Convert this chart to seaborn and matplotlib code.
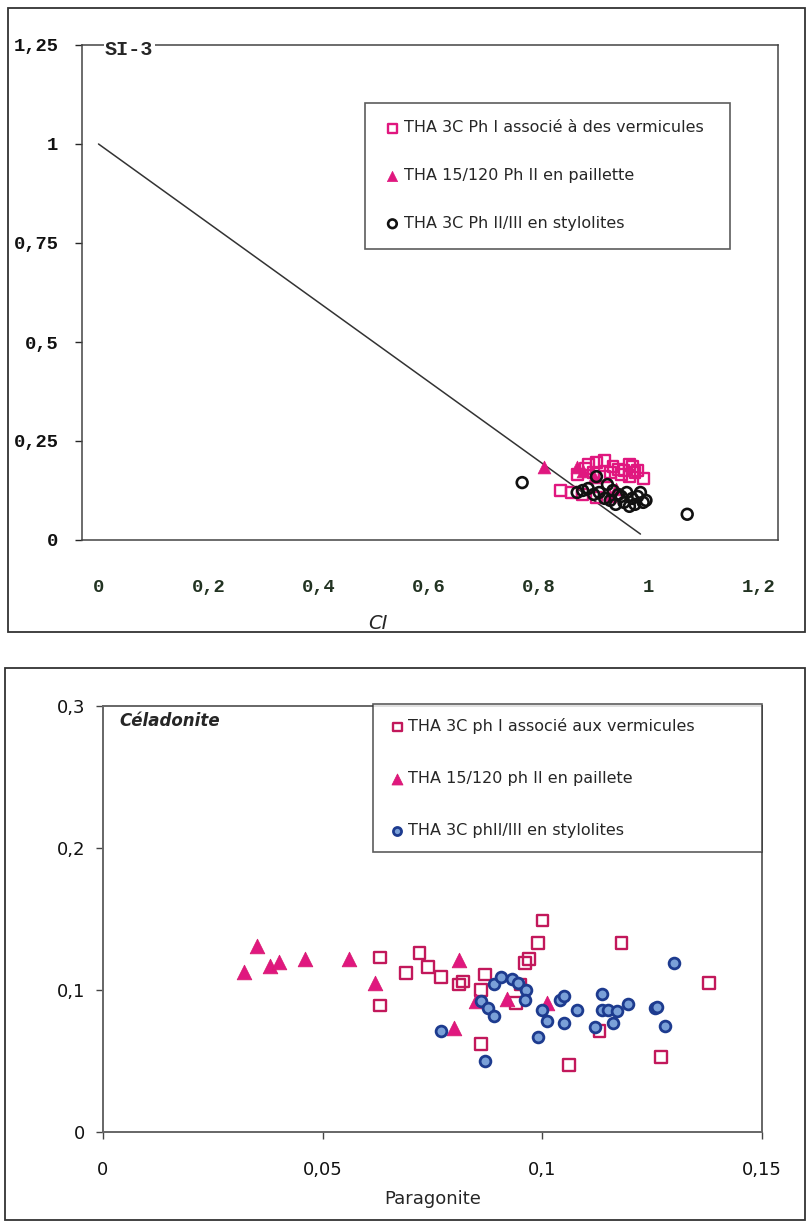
import matplotlib
matplotlib.use('Agg')
import matplotlib.pyplot as plt
import seaborn as sns
import pandas as pd
from matplotlib.patches import Rectangle

sns.set_style('white')
plt.rcParams['font.family'] = ['DejaVu Sans']

# ---------------- top chart : SI-3 vs CI ----------------
top_sq_x = [0.84, 0.86, 0.88, 0.905, 0.89, 0.905, 0.92, 0.935, 0.945, 0.955, 0.965,
            0.97, 0.975, 0.98, 0.99, 0.87, 0.90, 0.92, 0.95, 0.965, 0.885, 0.93]
top_sq_y = [0.125, 0.12, 0.115, 0.108, 0.19, 0.195, 0.20, 0.185, 0.178, 0.175, 0.19,
            0.185, 0.17, 0.175, 0.155, 0.165, 0.17, 0.16, 0.165, 0.16, 0.18, 0.17]
top_tri_x = [0.81, 0.87, 0.88, 0.90, 0.93, 0.94]
top_tri_y = [0.185, 0.185, 0.175, 0.16, 0.11, 0.13]
top_ci_x = [0.77, 1.07, 0.87, 0.88, 0.89, 0.90, 0.905, 0.91, 0.92, 0.925, 0.93, 0.935,
            0.94, 0.945, 0.95, 0.955, 0.96, 0.965, 0.97, 0.975, 0.98, 0.985, 0.99, 0.995]
top_ci_y = [0.145, 0.065, 0.12, 0.125, 0.13, 0.115, 0.16, 0.12, 0.105, 0.14, 0.10, 0.125,
            0.09, 0.115, 0.11, 0.095, 0.12, 0.085, 0.105, 0.09, 0.11, 0.12, 0.095, 0.10]
line_x = [0, 0.985]
line_y = [1, 0.015]
top_labels = ['THA 3C Ph I associé à des vermicules',
              'THA 15/120 Ph II en paillette',
              'THA 3C Ph II/III en stylolites']
top_xticks = [0, 0.2, 0.4, 0.6, 0.8, 1, 1.2]
top_xticklabels = ['0', '0,2', '0,4', '0,6', '0,8', '1', '1,2']
top_yticks = [0, 0.25, 0.5, 0.75, 1, 1.25]
top_yticklabels = ['0', '0,25', '0,5', '0,75', '1', '1,25']

# ---------------- bottom chart : Céladonite vs Paragonite ----------------
bot_sq_x = [0.063, 0.063, 0.069, 0.072, 0.074, 0.077, 0.081, 0.082, 0.086, 0.086, 0.087,
            0.094, 0.095, 0.096, 0.097, 0.099, 0.100, 0.106, 0.113, 0.118, 0.127, 0.138]
bot_sq_y = [0.123, 0.089, 0.112, 0.126, 0.116, 0.109, 0.104, 0.106, 0.100, 0.062, 0.111,
            0.091, 0.104, 0.119, 0.122, 0.133, 0.149, 0.047, 0.071, 0.133, 0.053, 0.105]
bot_tri_x = [0.032, 0.035, 0.038, 0.040, 0.046, 0.056, 0.062, 0.081, 0.080, 0.085, 0.092, 0.101]
bot_tri_y = [0.113, 0.131, 0.117, 0.120, 0.122, 0.122, 0.105, 0.121, 0.073, 0.092, 0.094, 0.091]
bot_ci_x = [0.077, 0.087, 0.086, 0.0877, 0.089, 0.089, 0.0906, 0.093, 0.0945, 0.0963, 0.096,
            0.099, 0.100, 0.101, 0.104, 0.105, 0.105, 0.108, 0.112, 0.1135, 0.1135, 0.115,
            0.116, 0.117, 0.1196, 0.1256, 0.126, 0.128, 0.130]
bot_ci_y = [0.071, 0.050, 0.092, 0.087, 0.082, 0.104, 0.109, 0.108, 0.105, 0.100, 0.093,
            0.067, 0.086, 0.078, 0.093, 0.096, 0.077, 0.086, 0.074, 0.086, 0.097, 0.086,
            0.077, 0.085, 0.090, 0.087, 0.088, 0.075, 0.119]
bot_labels = ['THA 3C ph I associé aux vermicules',
              'THA 15/120 ph II en paillete',
              'THA 3C phII/III en stylolites']
bot_xticks = [0, 0.05, 0.1, 0.15]
bot_xticklabels = ['0', '0,05', '0,1', '0,15']
bot_yticks = [0, 0.1, 0.2, 0.3]
bot_yticklabels = ['0', '0,1', '0,2', '0,3']

magenta = '#e0177f'
crimson = '#c2185b'
navy = '#1d3b8f'

fig = plt.figure(figsize=(8.07, 12.24), dpi=100)

# outer frames around each chart
fig.patches.append(Rectangle((8/807, 1-632/1224), 797/807, 624/1224, transform=fig.transFigure,
                             fill=False, edgecolor='#333333', linewidth=1.3))
fig.patches.append(Rectangle((5/807, 1-1220/1224), 800/807, 552/1224, transform=fig.transFigure,
                             fill=False, edgecolor='#333333', linewidth=1.3))

# top chart
ax1 = fig.add_axes([82/807, 1-540/1224, 696/807, 495/1224])
sns.lineplot(x=line_x, y=line_y, ax=ax1, color='#333333', linewidth=1.1)
sns.scatterplot(x=top_sq_x, y=top_sq_y, ax=ax1, marker='s', s=60, facecolors='none',
                edgecolors=magenta, linewidth=1.7, label=top_labels[0], zorder=3)
sns.scatterplot(x=top_tri_x, y=top_tri_y, ax=ax1, marker='^', s=85, color=magenta,
                edgecolor=magenta, linewidth=0.5, label=top_labels[1], zorder=4)
sns.scatterplot(x=top_ci_x, y=top_ci_y, ax=ax1, marker='o', s=60, facecolors='none',
                edgecolors='#111111', linewidth=1.9, label=top_labels[2], zorder=5)
ax1.set_xlim(-0.03, 1.235)
ax1.set_ylim(0, 1.25)
ax1.set_xticks(top_xticks)
ax1.set_xticklabels(top_xticklabels, family='Liberation Mono', fontweight='bold',
                    fontsize=13.5, color='#223322')
ax1.set_yticks(top_yticks)
ax1.set_yticklabels(top_yticklabels, family='Liberation Mono', fontweight='bold',
                    fontsize=13.5, color='#111111')
ax1.tick_params(axis='y', length=5, width=1, pad=12, left=True)
ax1.tick_params(axis='x', length=0, pad=28)
ax1.set_xlabel('CI', fontsize=14, fontstyle='italic', labelpad=8)
ax1.xaxis.set_label_coords(0.425, -0.15)
ax1.set_ylabel('')
for sp in ax1.spines.values():
    sp.set_color('#444444')
    sp.set_linewidth(1.1)
ax1.text(0.033, 0.99, 'SI-3', transform=ax1.transAxes, family='Liberation Mono',
         fontweight='bold', fontsize=14.5, va='center', ha='left',
         bbox=dict(facecolor='white', edgecolor='none', pad=1))
leg1 = ax1.legend(loc='upper left', bbox_to_anchor=(0.407, 0.596, 0.524, 0.287),
                  mode='expand', borderaxespad=0, fontsize=11.5, frameon=True, fancybox=False,
                  borderpad=1.1, labelspacing=2.05, handletextpad=0.1, handlelength=1.2,
                  markerscale=0.8)
leg1.get_frame().set_edgecolor('#333333')
leg1.get_frame().set_linewidth(1.2)

# bottom chart
ax2 = fig.add_axes([103/807, 1-1132/1224, 659/807, 426/1224])
sns.scatterplot(x=bot_sq_x, y=bot_sq_y, ax=ax2, marker='s', s=70, facecolors='none',
                edgecolors=crimson, linewidth=1.7, label=bot_labels[0], zorder=3)
sns.scatterplot(x=bot_tri_x, y=bot_tri_y, ax=ax2, marker='^', s=110, color=magenta,
                edgecolor='#d81b72', linewidth=0.6, label=bot_labels[1], zorder=4)
sns.scatterplot(x=bot_ci_x, y=bot_ci_y, ax=ax2, marker='o', s=60, color='#7aa0d8',
                edgecolor=navy, linewidth=2.0, label=bot_labels[2], zorder=5)
ax2.set_xlim(0, 0.15)
ax2.set_ylim(0, 0.3)
ax2.set_xticks(bot_xticks)
ax2.set_xticklabels(bot_xticklabels, fontsize=13)
ax2.set_yticks(bot_yticks)
ax2.set_yticklabels(bot_yticklabels, fontsize=13)
ax2.tick_params(axis='both', length=5, width=1, colors='#444444', labelcolor='#111111',
                bottom=True, left=True)
ax2.tick_params(axis='x', pad=16)
ax2.tick_params(axis='y', pad=8)
ax2.set_xlabel('Paragonite', fontsize=13, labelpad=8)
ax2.set_ylabel('')
for sp in ax2.spines.values():
    sp.set_color('#666666')
    sp.set_linewidth(1.4)
ax2.text(0.025, 0.965, 'Céladonite', transform=ax2.transAxes, fontweight='bold',
         fontsize=12, fontstyle='italic', va='center', ha='left',
         bbox=dict(facecolor='white', edgecolor='none', pad=3))
leg2 = ax2.legend(loc='upper left', bbox_to_anchor=(0.41, 0.65, 0.59, 0.355),
                  mode='expand', borderaxespad=0, fontsize=11.5, frameon=True, fancybox=False,
                  borderpad=0.9, labelspacing=2.3, handletextpad=0.1, handlelength=1.2,
                  markerscale=0.75)
leg2.get_frame().set_edgecolor('#333333')
leg2.get_frame().set_linewidth(1.2)

fig.savefig('out.png', dpi=100)
